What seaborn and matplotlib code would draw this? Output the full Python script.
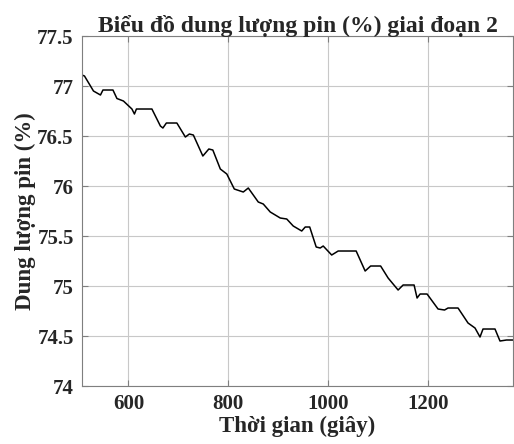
import matplotlib
matplotlib.use("Agg")
import matplotlib.pyplot as plt
import seaborn as sns
import pandas as pd

time_s = [507, 512, 530, 544, 549, 569, 577, 590, 607, 612, 616, 647, 664, 669, 676, 697,
          714, 722, 730, 749, 761, 769, 784, 797, 812, 830, 840, 860, 870, 884, 904, 917,
          930, 947, 954, 963, 976, 984, 990, 1007, 1020, 1056, 1074, 1085, 1105, 1120, 1140,
          1150, 1172, 1178, 1184, 1198, 1220, 1233, 1240, 1260, 1280, 1294, 1304, 1310, 1334,
          1344, 1357, 1370]
capacity = [77.11, 77.10, 76.95, 76.91, 76.96, 76.96, 76.875, 76.85, 76.77, 76.72, 76.77, 76.77,
            76.60, 76.58, 76.63, 76.63, 76.49, 76.52, 76.51, 76.30, 76.37, 76.36, 76.17, 76.12,
            75.97, 75.94, 75.98, 75.84, 75.82, 75.74, 75.68, 75.67, 75.60, 75.55, 75.59, 75.59,
            75.39, 75.38, 75.40, 75.31, 75.35, 75.35, 75.15, 75.20, 75.20, 75.08, 74.96, 75.01,
            75.01, 74.88, 74.92, 74.92, 74.77, 74.76, 74.78, 74.78, 74.63, 74.58, 74.49, 74.57,
            74.57, 74.45, 74.46, 74.46]
x_ticks = [600, 800, 1000, 1200]
y_ticks = [74, 74.5, 75, 75.5, 76, 76.5, 77, 77.5]
y_tick_labels = ["74", "74.5", "75", "75.5", "76", "76.5", "77", "77.5"]

sns.set_style("white")
plt.rcParams['font.family'] = ['Liberation Serif', 'DejaVu Serif']
plt.rcParams['font.weight'] = 'bold'

df = pd.DataFrame({"t": time_s, "c": capacity})
fig = plt.figure(figsize=(5.14, 4.44), dpi=100)
ax = fig.add_axes([0.1595, 0.1306, 0.8385, 0.7883])
sns.lineplot(data=df, x="t", y="c", ax=ax, color="black", linewidth=1.1)
ax.set_xlim(507, 1370)
ax.set_ylim(74, 77.5)
ax.set_xticks(x_ticks)
ax.set_xticklabels([str(v) for v in x_ticks])
ax.set_yticks(y_ticks)
ax.set_yticklabels(y_tick_labels)
ax.grid(True, color="#c8c8c8", linewidth=0.8)
for s in ax.spines.values():
    s.set_visible(True)
    s.set_color("#7f7f7f")
    s.set_linewidth(0.8)
ax.tick_params(direction="in", length=4, color="#7f7f7f", labelsize=15, pad=6,
               top=True, right=True, bottom=True, left=True, labelcolor="#262626")
for lbl in ax.get_xticklabels() + ax.get_yticklabels():
    lbl.set_fontweight('bold')
ax.set_xlabel("Thời gian (giây)", fontsize=16.5, fontweight='bold', labelpad=1)
ax.set_ylabel("Dung lượng pin (%)", fontsize=16.5, fontweight='bold', labelpad=1)
ax.set_title("Biểu đồ dung lượng pin (%) giai đoạn 2", fontsize=17, fontweight='bold', pad=3)
fig.savefig("out.png", dpi=100)
